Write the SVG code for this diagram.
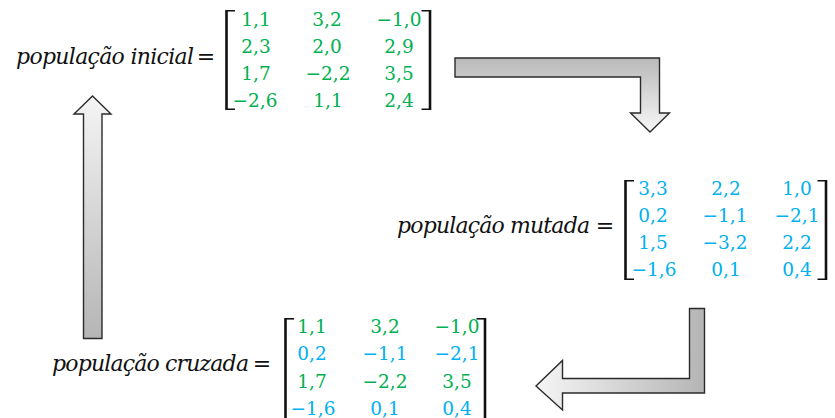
<svg xmlns="http://www.w3.org/2000/svg" width="835" height="418" viewBox="0 0 835 418">
  <style>
    .lbl { font-family: "DejaVu Serif", "Liberation Serif", serif; font-style: italic; font-size: 22px; fill: #111; }
    .eq { font-family: "DejaVu Serif", "Liberation Serif", serif; font-size: 22px; fill: #111; text-anchor: middle; }
    .num { font-family: "DejaVu Serif", "Liberation Serif", serif; font-size: 18.5px; text-anchor: middle; }
    .g { fill: #00b050; }
    .b { fill: #00b0f0; }
    .br { fill: none; stroke: #111; stroke-width: 1.6; }
    .brv { fill: none; stroke: #111; stroke-width: 2.6; }
    .arrow { stroke: #2b2b2b; stroke-width: 1.4; stroke-linejoin: miter; }
  </style>
  <defs>
    <linearGradient id="gradDown" x1="0" y1="0" x2="0" y2="1">
      <stop offset="0" stop-color="#b9b9b9"/>
      <stop offset="1" stop-color="#f7f7f7"/>
    </linearGradient>
    <linearGradient id="gradLeft" x1="1" y1="0" x2="0" y2="0">
      <stop offset="0" stop-color="#b5b5b5"/>
      <stop offset="1" stop-color="#f5f5f5"/>
    </linearGradient>
    <linearGradient id="gradUp" x1="0" y1="1" x2="0" y2="0">
      <stop offset="0" stop-color="#b5b5b5"/>
      <stop offset="1" stop-color="#f5f5f5"/>
    </linearGradient>
  </defs>

  <!-- initial population -->
  <g id="node-initial">
    <text class="lbl" x="16" y="64" textLength="178">população inicial</text>
    <text class="eq" x="206" y="64">=</text>
    <path class="brv" d="M226.5 10 V110"/>
    <path class="br" d="M226.5 10.8 H235 M226.5 109.2 H235"/>
    <path class="brv" d="M430 10 V110"/>
    <path class="br" d="M430 10.8 H421.5 M430 109.2 H421.5"/>
    <g class="num g">
      <text x="256" y="26">1,1</text><text x="327" y="26">3,2</text><text x="399" y="26">−1,0</text>
      <text x="256" y="53">2,3</text><text x="327" y="53">2,0</text><text x="399" y="53">2,9</text>
      <text x="256" y="80">1,7</text><text x="328" y="80">−2,2</text><text x="399" y="80">3,5</text>
      <text x="255" y="107">−2,6</text><text x="328" y="107">1,1</text><text x="399" y="107">2,4</text>
    </g>
  </g>

  <!-- mutated population -->
  <g id="node-mutated">
    <text class="lbl" x="397" y="233" textLength="193">população mutada</text>
    <text class="eq" x="605" y="233">=</text>
    <path class="brv" d="M625.5 180 V280"/>
    <path class="br" d="M625.5 180.8 H634 M625.5 279.2 H634"/>
    <path class="brv" d="M826 180 V280"/>
    <path class="br" d="M826 180.8 H817.5 M826 279.2 H817.5"/>
    <g class="num b">
      <text x="653" y="195">3,3</text><text x="726" y="195">2,2</text><text x="797" y="195">1,0</text>
      <text x="653" y="222">0,2</text><text x="725" y="222">−1,1</text><text x="797" y="222">−2,1</text>
      <text x="653" y="249">1,5</text><text x="725" y="249">−3,2</text><text x="797" y="249">2,2</text>
      <text x="654" y="276">−1,6</text><text x="726" y="276">0,1</text><text x="797" y="276">0,4</text>
    </g>
  </g>

  <!-- crossed population -->
  <g id="node-crossed">
    <text class="lbl" x="52" y="371" textLength="197">população cruzada</text>
    <text class="eq" x="262" y="371">=</text>
    <path class="brv" d="M285.5 318 V420"/>
    <path class="br" d="M285.5 318.8 H294"/>
    <path class="brv" d="M485 318 V420"/>
    <path class="br" d="M485 318.8 H476.5"/>
    <g class="num">
      <text class="g" x="312" y="333">1,1</text><text class="g" x="385" y="333">3,2</text><text class="g" x="457" y="333">−1,0</text>
      <text class="b" x="312" y="360">0,2</text><text class="b" x="385" y="360">−1,1</text><text class="b" x="457" y="360">−2,1</text>
      <text class="g" x="312" y="388">1,7</text><text class="g" x="385" y="388">−2,2</text><text class="g" x="457" y="388">3,5</text>
      <text class="b" x="313" y="415">−1,6</text><text class="b" x="385" y="415">0,1</text><text class="b" x="457" y="415">0,4</text>
    </g>
  </g>

  <!-- bent block arrows between the populations -->
  <g id="connectors">
    <path id="arrow-initial-mutated" class="arrow" fill="url(#gradDown)"
          d="M455 58 H659.5 V113 H669.5 L650 132 L630.5 113 H640.5 V77 H455 Z"/>
    <path id="arrow-mutated-crossed" class="arrow" fill="url(#gradLeft)"
          d="M704.5 308.5 V393 H562.5 V410 L536 386 L562.5 360.5 V378.5 H689.5 V308.5 Z"/>
    <path id="arrow-crossed-initial" class="arrow" fill="url(#gradUp)"
          d="M83.5 338.5 V114 H74 L92.5 96 L111 114 H102 V338.5 Z"/>
  </g>
</svg>
